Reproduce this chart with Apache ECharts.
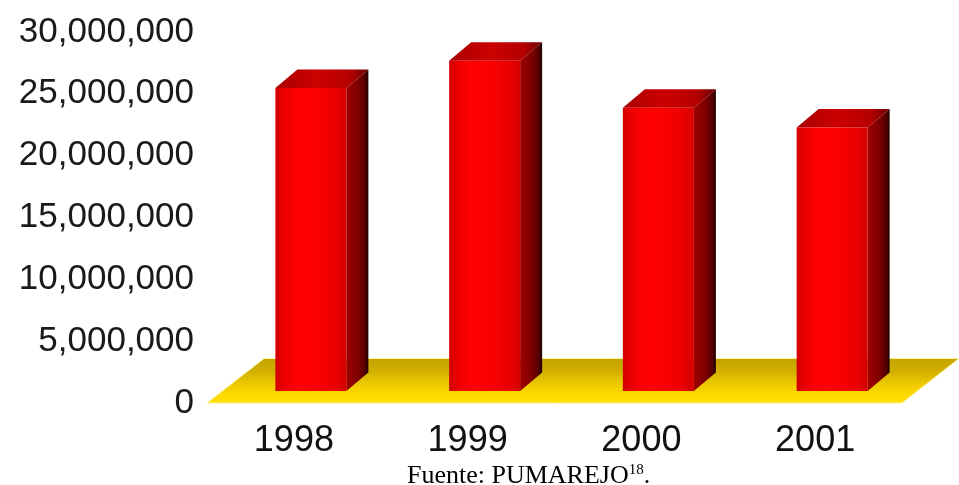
<!DOCTYPE html>
<html>
<head>
<meta charset="utf-8">
<script src="https://cdn.jsdelivr.net/npm/echarts@6/dist/echarts.min.js"></script>
<style>
  html, body { margin: 0; padding: 0; background: #ffffff; }
  #chart { width: 959px; height: 485px; }
</style>
</head>
<body>
<div id="chart"></div>
<script>
// Yearly totals
const years = ['1998', '1999', '2000', '2001'];
const amounts = [24500000, 26700000, 22900000, 21300000];
const yTickLabels = ['0', '5,000,000', '10,000,000', '15,000,000', '20,000,000', '25,000,000', '30,000,000'];
const yStep = 5000000;

// Oblique projection used for the pseudo-3D look (pixels)
const FLOOR_DEPTH = [57, -44.5];   // front edge of floor -> back edge
const BAR_OFFSET = [17, -12];      // floor front edge -> bar front face
const BAR_DEPTH = [22, -18.5];     // bar front face -> bar back face
const BAR_HALF = 35.5;             // half width of the bar front face

function grad(x2, y2, stops) {
  return {
    type: 'linear', x: 0, y: 0, x2: x2, y2: y2, global: false,
    colorStops: stops.map(s => ({ offset: s[0], color: s[1] }))
  };
}

const frontFill = grad(1, 0, [[0, '#d00000'], [0.12, '#ec0000'], [0.32, '#ff0000'], [0.6, '#fb0000'], [0.85, '#e80000'], [1, '#d60000']]);
const sideFill = grad(1, 0, [[0, '#a00000'], [0.55, '#7c0000'], [0.85, '#520000'], [1, '#1c0000']]);
const topFill = grad(1, 0, [[0, '#a80000'], [0.45, '#cc0000'], [0.8, '#b40000'], [1, '#6a0000']]);
const floorFill = grad(0, 1, [[0, '#c4a200'], [0.3, '#d2b000'], [0.6, '#f0cc00'], [0.85, '#ffdc00'], [1, '#ffe000']]);

function renderFloor(params, api) {
  const cs = params.coordSys;
  const fy = cs.y + cs.height;
  const x0 = cs.x, x1 = cs.x + cs.width;
  return {
    type: 'polygon',
    shape: {
      points: [
        [x0, fy], [x1, fy],
        [x1 + FLOOR_DEPTH[0], fy + FLOOR_DEPTH[1]],
        [x0 + FLOOR_DEPTH[0], fy + FLOOR_DEPTH[1]]
      ]
    },
    style: { fill: floorFill, stroke: '#fff2a0', lineWidth: 1 },
    silent: true
  };
}

function renderBar(params, api) {
  const idx = api.value(0);
  const val = api.value(1);
  const base = api.coord([idx, 0]);
  const head = api.coord([idx, val]);
  const cx = base[0] + BAR_OFFSET[0];
  const xL = cx - BAR_HALF, xR = cx + BAR_HALF;
  const yB = base[1] + BAR_OFFSET[1];
  const yT = head[1] + BAR_OFFSET[1];
  const dx = BAR_DEPTH[0], dy = BAR_DEPTH[1];
  return {
    type: 'group',
    children: [
      {
        type: 'polygon',
        shape: { points: [[xR, yT], [xR + dx, yT + dy], [xR + dx, yB + dy], [xR, yB]] },
        style: { fill: sideFill }
      },
      {
        type: 'polygon',
        shape: { points: [[xL, yT], [xR, yT], [xR + dx, yT + dy], [xL + dx, yT + dy]] },
        style: { fill: topFill }
      },
      {
        type: 'rect',
        shape: { x: xL, y: yT, width: xR - xL, height: yB - yT },
        style: { fill: frontFill }
      }
    ]
  };
}

const chart = echarts.init(document.getElementById('chart'), null, { renderer: 'canvas' });

const serif = '"Liberation Serif", "Times New Roman", serif';

chart.setOption({
  backgroundColor: '#ffffff',
  animation: false,
  title: {
    left: 402,
    top: 458,
    text: '{a|Fuente: PUMAREJO}{b|18}{a|.}',
    textStyle: {
      fontWeight: 'normal',
      rich: {
        a: { fontFamily: serif, fontWeight: 'normal', fontSize: 26, color: '#000000', lineHeight: 26 },
        b: { fontFamily: serif, fontWeight: 'normal', fontSize: 15, color: '#000000', lineHeight: 8, verticalAlign: 'top' }
      }
    }
  },
  grid: { left: 207, right: 57, top: 32, bottom: 82, containLabel: false },
  xAxis: {
    type: 'category',
    data: years,
    axisLine: { show: false },
    axisTick: { show: false },
    splitLine: { show: false },
    axisLabel: {
      margin: 20,
      fontFamily: '"Liberation Sans", Arial, sans-serif',
      fontSize: 36,
      color: '#111111'
    }
  },
  yAxis: {
    type: 'value',
    min: 0,
    max: yStep * (yTickLabels.length - 1),
    interval: yStep,
    axisLine: { show: false },
    axisTick: { show: false },
    splitLine: { show: false },
    axisLabel: {
      margin: 13,
      fontFamily: '"Liberation Sans", Arial, sans-serif',
      fontSize: 35,
      color: '#1a1a1a',
      formatter: v => yTickLabels[Math.round(v / yStep)]
    }
  },
  series: [
    {
      type: 'custom',
      name: 'floor',
      renderItem: renderFloor,
      data: [[0, 0]],
      clip: false,
      silent: true,
      z: 1
    },
    {
      type: 'custom',
      name: 'amount',
      renderItem: renderBar,
      encode: { x: 0, y: 1 },
      data: years.map((y, i) => [i, amounts[i]]),
      clip: false,
      z: 2
    }
  ]
});
</script>
</body>
</html>
